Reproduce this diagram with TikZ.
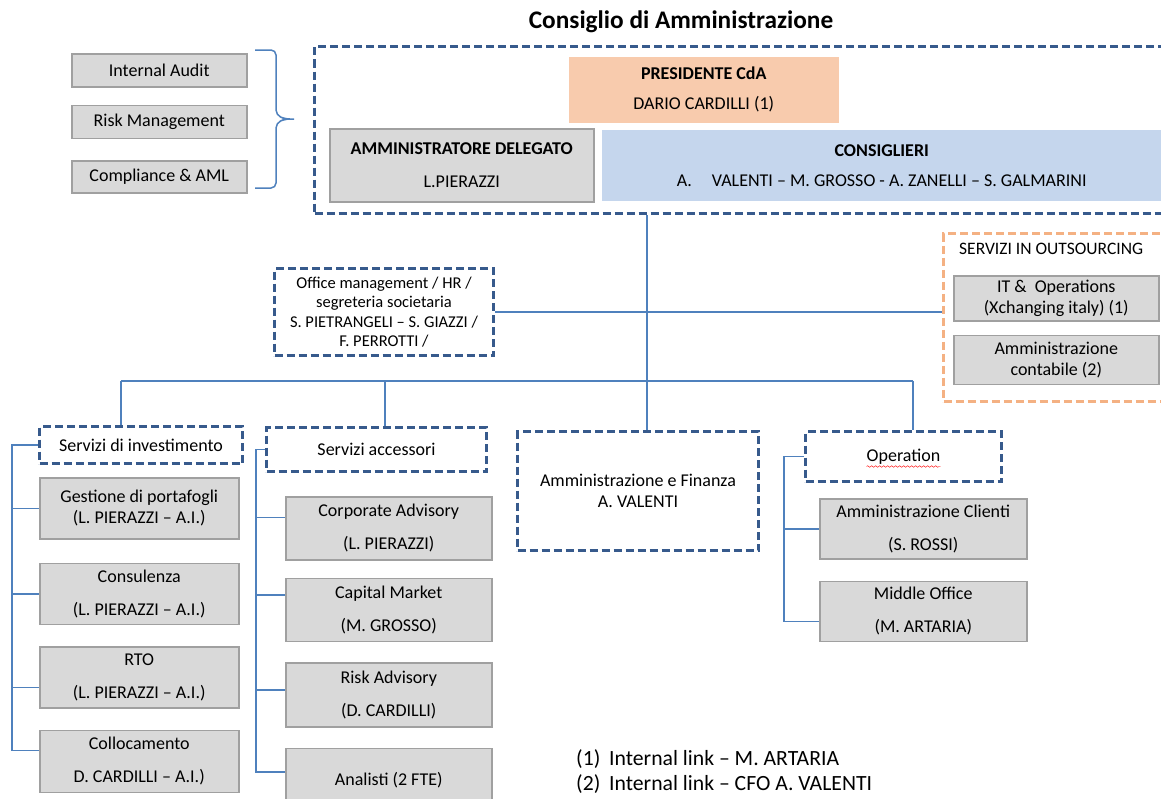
\documentclass[tikz,border=0pt]{standalone}
\usepackage{fontspec}
\setmainfont{Carlito}
\usetikzlibrary{positioning, decorations.pathmorphing}

\definecolor{dashblue}{HTML}{375A8C}
\definecolor{linkblue}{HTML}{4F81BD}
\definecolor{boxfill}{HTML}{D9D9D9}
\definecolor{boxline}{HTML}{A0A0A0}
\definecolor{peach}{HTML}{F8CBAD}
\definecolor{paleblue}{HTML}{C5D6ED}
\definecolor{outorange}{HTML}{F4B183}

\begin{document}
\begin{tikzpicture}[x=1pt, y=-1pt,
  unit/.style={draw=boxline, fill=boxfill, line width=1.5pt, align=center, inner sep=0pt, font=\fontsize{18}{21}\selectfont},
  group/.style={draw=dashblue, line width=3pt, dash pattern=on 8pt off 4pt, align=center, inner sep=0pt, font=\fontsize{18}{21}\selectfont},
  link/.style={draw=linkblue, line width=1.5pt},
  node distance=20pt
]
\useasboundingbox (0,0) rectangle (1161,798);

% Board
\node[font=\bfseries\fontsize{25.3}{30}\selectfont] (title) at (681,22) {Consiglio di Amministrazione};
\node[group, anchor=north west, minimum width=870pt, minimum height=167pt] (board) at (313,45) {};
\node[unit, draw=none, fill=peach, anchor=north west, minimum width=270pt, minimum height=66pt] (pres) at (568,56)
  {\textbf{PRESIDENTE CdA}\\[9pt]DARIO CARDILLI (1)};
\node[unit, anchor=north west, minimum width=264pt, minimum height=73pt] (ad) at (329,128)
  {\textbf{AMMINISTRATORE DELEGATO}\\[12pt]L.PIERAZZI};
\node[unit, draw=none, fill=paleblue, anchor=north west, minimum width=560pt, minimum height=71pt] (consig) at (601,129)
  {\textbf{CONSIGLIERI}\\[9pt]A.\hspace{20pt}VALENTI – M. GROSSO - A. ZANELLI – S. GALMARINI};

% Control functions
\node[unit, anchor=north west, minimum width=175pt, minimum height=33pt] (audit) at (71,53) {Internal Audit};
\node[unit, below=17pt of audit, minimum width=175pt, minimum height=33pt] (riskm) {Risk Management};
\node[unit, below=21pt of riskm, minimum width=175pt, minimum height=32pt] (compl) {Compliance \& AML};
\draw[link, rounded corners=5pt] (255,50) -- (276,50) -- (276,115) -- (285,119) -- (297,119) -- (285,119) -- (276,123) -- (276,188) -- (255,188);

% Staff and outsourcing
\node[group, anchor=north west, minimum width=219pt, minimum height=87pt, font=\fontsize{16.5}{19.5}\selectfont] (office) at (273,267)
  {Office management / HR /\\segreteria societaria\\S. PIETRANGELI – S. GIAZZI /\\F. PERROTTI /};
\node[group, draw=outorange, anchor=north west, minimum width=240pt, minimum height=168pt] (outs) at (942,232) {};
\node[anchor=west, font=\fontsize{17.5}{21}\selectfont, inner sep=0pt] (outtitle) at (959,249) {SERVIZI IN OUTSOURCING};
\node[unit, anchor=north west, minimum width=205pt, minimum height=45pt] (itops) at (953,275)
  {IT \&\ \ Operations\\(Xchanging italy) (1)};
\node[unit, below=13pt of itops, minimum width=205pt, minimum height=49pt] (contab) {Amministrazione\\contabile (2)};

% Areas
\node[group, anchor=north west, minimum width=203pt, minimum height=37pt] (inv) at (38,425) {Servizi di investimento};
\node[group, anchor=north west, minimum width=220pt, minimum height=44pt] (acc) at (265,426) {Servizi accessori};
\node[group, anchor=north west, minimum width=241pt, minimum height=119pt] (amm) at (516,430) {Amministrazione e Finanza\\A. VALENTI};
\node[group, anchor=north west, minimum width=196pt, minimum height=50pt] (oper) at (804,430) {Operation};
\draw[red, decorate, decoration={snake, amplitude=0.8pt, segment length=4pt}]
  ([xshift=-37pt, yshift=-10pt]oper.center) -- ([xshift=37pt, yshift=-10pt]oper.center);

% Servizi di investimento
\node[unit, anchor=north west, minimum width=199pt, minimum height=61pt] (gest) at (39,477)
  {Gestione di portafogli\\(L. PIERAZZI – A.I.)};
\node[unit, below=23pt of gest, minimum width=199pt, minimum height=61pt] (cons) {Consulenza\\[12pt](L. PIERAZZI – A.I.)};
\node[unit, below=21pt of cons, minimum width=199pt, minimum height=61pt] (rto) {RTO\\[12pt](L. PIERAZZI – A.I.)};
\node[unit, below=21pt of rto, minimum width=199pt, minimum height=62pt] (coll) {Collocamento\\[12pt]D. CARDILLI – A.I.)};

% Servizi accessori
\node[unit, anchor=north west, minimum width=206pt, minimum height=63pt] (corp) at (285,496)
  {Corporate Advisory\\[12pt](L. PIERAZZI)};
\node[unit, below=17pt of corp, minimum width=206pt, minimum height=63pt] (capm) {Capital Market\\[12pt](M. GROSSO)};
\node[unit, below=20pt of capm, minimum width=206pt, minimum height=64pt] (riskadv) {Risk Advisory\\[12pt](D. CARDILLI)};
\node[unit, below=20pt of riskadv, minimum width=206pt, minimum height=63pt] (anal) {Analisti (2 FTE)};

% Operation
\node[unit, anchor=north west, minimum width=207pt, minimum height=60pt] (cli) at (819,498)
  {Amministrazione Clienti\\[12pt](S. ROSSI)};
\node[unit, below=21pt of cli, minimum width=207pt, minimum height=60pt] (mid) {Middle Office\\[12pt](M. ARTARIA)};

% Notes
\node[anchor=west, inner sep=0pt, font=\fontsize{21.7}{25}\selectfont] (note1) at (576,759) {\makebox[33pt][l]{(1)}Internal link – M. ARTARIA};
\node[anchor=west, inner sep=0pt, font=\fontsize{21.7}{25}\selectfont] (note2) at (576,784) {\makebox[33pt][l]{(2)}Internal link – CFO A. VALENTI};

% Connectors
\coordinate (d1) at (121,381);
\coordinate (d2) at (385,381);
\coordinate (d3) at (647,381);
\coordinate (d4) at (913,381);
\draw[link] (d1) -- (d4);
\draw[link] (board.south -| d3) -- (d3 |- amm.north);
\draw[link] (d1) -- (d1 |- inv.north);
\draw[link] (d2) -- (d2 |- acc.north);
\draw[link] (d4) -- (d4 |- oper.north);
\draw[link] (office.east) -- (office.east -| outs.west);

\draw[link] (inv.west) -- ++(-26,0) coordinate (ib) |- ([yshift=11pt]coll.west);
\foreach \n/\s in {gest/0, cons/0, rto/-10} {
  \path ([yshift=\s pt]\n.west) coordinate (stub);
  \draw[link] (ib |- stub) -- (stub);
}

\draw[link] (acc.west) -- ++(-9,0) coordinate (ab) |- ([yshift=8pt]anal.west);
\foreach \n/\s in {corp/11, capm/15, riskadv/5} {
  \path ([yshift=\s pt]\n.west) coordinate (stub);
  \draw[link] (ab |- stub) -- (stub);
}

\draw[link] (oper.west) -- ++(-20,0) coordinate (ob) |- ([yshift=-10pt]mid.west);
\draw[link] (ob |- cli.west) -- (cli.west);

\end{tikzpicture}
\end{document}
